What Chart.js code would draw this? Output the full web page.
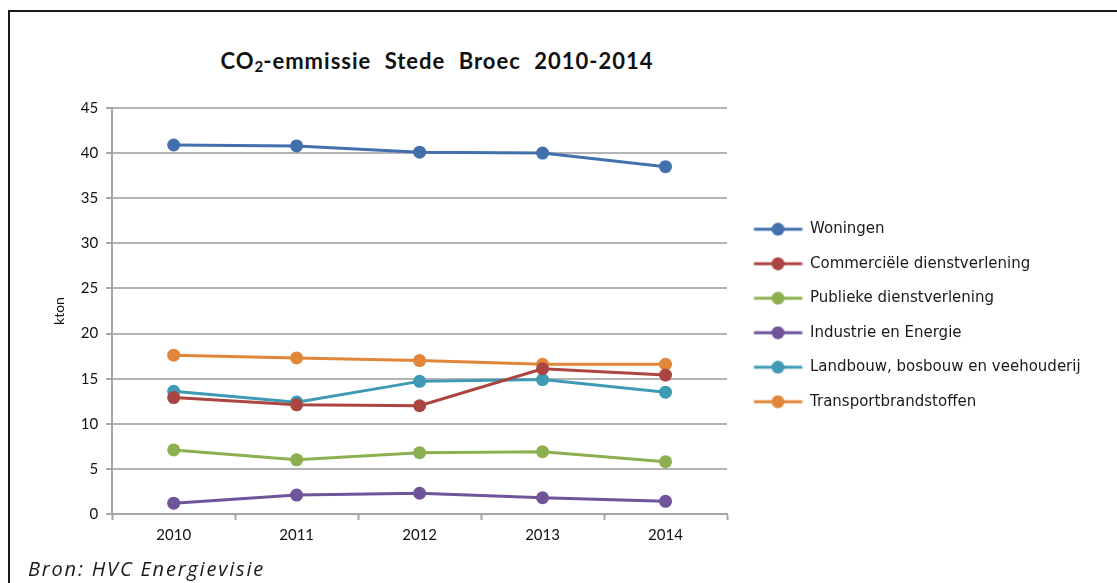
<!DOCTYPE html>
<html><head><meta charset="utf-8">
<script src="https://cdn.jsdelivr.net/npm/chart.js@4.4.1/dist/chart.umd.min.js"></script>
<style>
html,body{margin:0;padding:0;background:#fff;overflow:hidden;}
#wrap{position:relative;width:1117px;height:583px;overflow:hidden;background:#fff;}
#frame{position:absolute;left:8px;top:10px;width:1200px;height:700px;border-left:2px solid #1a1a1a;border-top:2px solid #1a1a1a;}
#title{position:absolute;left:0;width:874px;top:47px;text-align:center;font-family:Lato,"Noto Sans",sans-serif;font-weight:bold;font-size:22px;color:#111;letter-spacing:1px;word-spacing:7px;white-space:nowrap;}
#title sub{font-size:15px;vertical-align:-3px;line-height:0;letter-spacing:0;}
#src{position:absolute;left:28px;top:555px;font-family:"Open Sans",sans-serif;font-style:italic;font-size:20px;color:#1a1a1a;white-space:nowrap;letter-spacing:1.8px;}
#chartBox{position:absolute;left:0;top:0;width:1117px;height:583px;}
</style>
</head><body>
<div id="wrap">
<div id="frame"></div>
<div id="title">CO<sub>2</sub>-emmissie Stede Broec 2010-2014</div>
<div id="chartBox"><canvas id="c" width="1117" height="583"></canvas></div>
<div id="src">Bron: HVC Energievisie</div>
</div>
<script>
const categories = ['2010','2011','2012','2013','2014'];
const seriesNames = ['Woningen','Commerciële dienstverlening','Publieke dienstverlening','Industrie en Energie','Landbouw, bosbouw en veehouderij','Transportbrandstoffen'];
const woningen = [40.9, 40.8, 40.1, 40.0, 38.5];
const commercieel = [12.9, 12.1, 12.0, 16.1, 15.4];
const publiek = [7.1, 6.0, 6.8, 6.9, 5.8];
const industrie = [1.2, 2.1, 2.3, 1.8, 1.4];
const landbouw = [13.6, 12.4, 14.7, 14.9, 13.5];
const transport = [17.6, 17.3, 17.0, 16.6, 16.6];
const yTicks = [0,5,10,15,20,25,30,35,40,45];
const colors = ['#4170ad','#ab4542','#8cb04f','#70549a','#3f9ab5','#e0873a'];

const seriesValues = [woningen, commercieel, publiek, industrie, landbouw, transport];

const LEG_FONT = { family: '"DejaVu Sans"', size: 15 };
const LEG_PAD = 19.5, ICON_W = 56;

function legendIcon(color){
  const cv = document.createElement('canvas');
  cv.width = ICON_W; cv.height = 14;
  const g = cv.getContext('2d');
  g.strokeStyle = color; g.lineWidth = 3;
  g.beginPath(); g.moveTo(7.5,7); g.lineTo(55.5,7); g.stroke();
  g.fillStyle = color;
  g.beginPath(); g.arc(31.5,7,6.5,0,Math.PI*2); g.fill();
  return cv;
}
const icons = colors.map(legendIcon);

// natural legend width so that the plot area ends at the wanted right edge
const mctx = document.createElement('canvas').getContext('2d');
mctx.font = LEG_FONT.size + 'px ' + LEG_FONT.family;
const maxText = Math.max(...seriesNames.map(s => mctx.measureText(s).width));
const legendW = LEG_PAD + ICON_W + LEG_FONT.size/2 + maxText + 10;
const rightPad = Math.max(0, 1117 - 727 - legendW);

const datasets = seriesNames.map((name,i)=>({
  label: name,
  data: seriesValues[i],
  borderColor: colors[i],
  backgroundColor: colors[i],
  borderWidth: 3,
  pointRadius: 6.5,
  pointHoverRadius: 6.5,
  pointBackgroundColor: colors[i],
  pointBorderWidth: 0,
  tension: 0
}));

new Chart(document.getElementById('c'), {
  type: 'line',
  data: { labels: categories, datasets },
  options: {
    responsive: false,
    animation: false,
    devicePixelRatio: 1,
    layout: { padding: { left: 51, top: 108, right: rightPad, bottom: 33 } },
    plugins: {
      tooltip: { enabled: false },
      title: { display: false },
      legend: {
        position: 'right',
        align: 'center',
        fullSize: false,
        maxWidth: 600,
        title: { display: true, text: ' ', padding: 0, font: { size: 9, lineHeight: 1 } },
        labels: {
          usePointStyle: true,
          pointStyleWidth: ICON_W,
          padding: LEG_PAD,
          color: '#1a1a1a',
          font: LEG_FONT,
          generateLabels(chart){
            return chart.data.datasets.map((ds,i)=>({
              text: ds.label, fillStyle: ds.borderColor, strokeStyle: ds.borderColor,
              lineWidth: 0, pointStyle: icons[i], hidden: false, datasetIndex: i, fontColor: '#1a1a1a'
            }));
          }
        }
      }
    },
    scales: {
      x: {
        offset: true,
        grid: { display: true, offset: true, drawOnChartArea: false, drawTicks: true, tickLength: 6, tickWidth: 2, tickColor: '#a6a6a6' },
        border: { display: true, color: '#a6a6a6', width: 2 },
        ticks: { color: '#111', font: { family: 'Lato', size: 15 }, padding: 6 }
      },
      y: {
        min: 0, max: 45,
        afterBuildTicks(scale){ scale.ticks = yTicks.map(v=>({value:v})); },
        grid: { color: '#b3b3b3', lineWidth: 2, drawTicks: true, tickLength: 6, tickColor: '#a6a6a6' },
        border: { display: true, color: '#a6a6a6', width: 2 },
        ticks: { color: '#111', font: { family: 'Lato', size: 15 }, padding: 8 },
        title: { display: true, text: 'kton', color: '#111', font: { family: 'Lato', size: 14 }, padding: { top: 0, bottom: 5 } }
      }
    }
  }
});
</script>
</body></html>
